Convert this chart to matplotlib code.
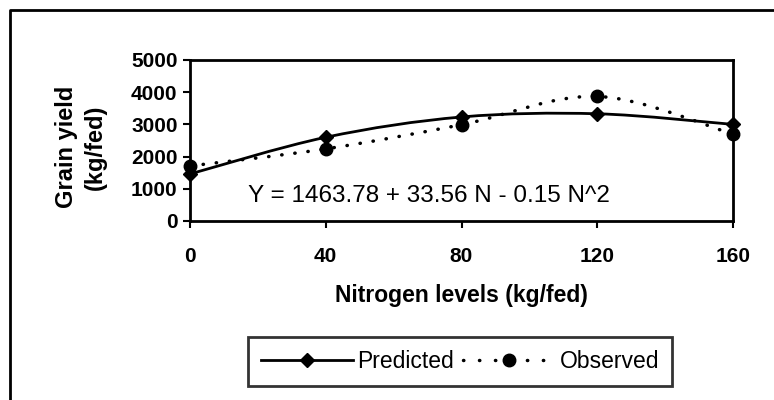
import numpy as np
import matplotlib.pyplot as plt
from matplotlib.path import Path
from matplotlib.patches import PathPatch
from matplotlib.lines import Line2D

plt.rcParams['font.family'] = ['Liberation Sans', 'DejaVu Sans']

# data
nitrogen = [0, 40, 80, 120, 160]
predicted = [1460, 2600, 3230, 3330, 3000]
observed = [1710, 2240, 2990, 3870, 2700]
xticks = [0, 40, 80, 120, 160]
yticks = [0, 1000, 2000, 3000, 4000, 5000]
equation = 'Y = 1463.78 + 33.56 N - 0.15 N^2'


def smooth_path(x, y):
    # smoothed line like the spreadsheet one (bezier through the points)
    pts = np.column_stack([x, y]).astype(float)
    p = np.vstack([pts[0], pts, pts[-1]])
    verts = [pts[0]]
    codes = [Path.MOVETO]
    for i in range(1, len(p) - 2):
        c1 = p[i] + (p[i + 1] - p[i - 1]) / 6
        c2 = p[i + 1] - (p[i + 2] - p[i]) / 6
        verts += [c1, c2, p[i + 1]]
        codes += [Path.CURVE4] * 3
    return Path(verts, codes)


fig = plt.figure(figsize=(7.74, 4.0), dpi=100)
ax = fig.add_axes([190 / 774, 1 - 221 / 400, 543 / 774, 161 / 400])

dots = (0, (0.1, 3.7))

ax.add_patch(PathPatch(smooth_path(nitrogen, predicted), fill=False,
                       edgecolor='black', lw=2, capstyle='round', clip_on=False))
ax.add_patch(PathPatch(smooth_path(nitrogen, observed), fill=False,
                       edgecolor='black', lw=2.5, linestyle=dots,
                       capstyle='round', clip_on=False))
ax.plot(nitrogen, observed, 'o', color='black', ms=9, clip_on=False, zorder=3)
ax.plot(nitrogen, predicted, 'D', color='black', ms=7.5, clip_on=False, zorder=4)

ax.set_xlim(0, 160)
ax.set_ylim(0, 5000)
ax.set_xticks(xticks)
ax.set_yticks(yticks)
ax.tick_params(direction='out', length=5, width=1.5, labelsize=15, pad=4)
for lab in ax.get_xticklabels() + ax.get_yticklabels():
    lab.set_fontweight('bold')
ax.tick_params(axis='x', pad=14)
for s in ax.spines.values():
    s.set_linewidth(2)

ax.text(17.1, 590, equation, fontsize=17.5, va='baseline', ha='left')

ax.set_xlabel('Nitrogen levels (kg/fed)', fontsize=16.5, fontweight='bold', labelpad=13)
fig.text(81 / 774, 1 - 147 / 400, 'Grain yield\n(kg/fed)', rotation=90,
         ha='center', va='center', fontsize=17, fontweight='bold',
         multialignment='center', linespacing=1.3)

h_pred = Line2D([], [], color='black', lw=2, marker='D', ms=7.5)
h_obs = Line2D([], [], color='black', lw=2.5, linestyle=(0, (0.1, 4.5)),
               dash_capstyle='round', marker='o', ms=9)
leg = fig.legend([h_pred, h_obs], ['Predicted', 'Observed'], ncol=2,
                 loc='center', bbox_to_anchor=(460 / 774, 1 - 361.5 / 400),
                 fontsize=16.5, frameon=True, fancybox=False, handlelength=4.0,
                 columnspacing=0.4, handletextpad=0.2, borderpad=0.55,
                 borderaxespad=0)
leg.get_frame().set_edgecolor('black')
leg.get_frame().set_linewidth(2)

# outer frame (only left and top edges are inside the picture)
fig.add_artist(Line2D([10 / 774, 10 / 774, 1.0], [0.0, 390 / 400, 390 / 400],
                      color='black', lw=2, transform=fig.transFigure))

fig.savefig('out.png', dpi=100)
